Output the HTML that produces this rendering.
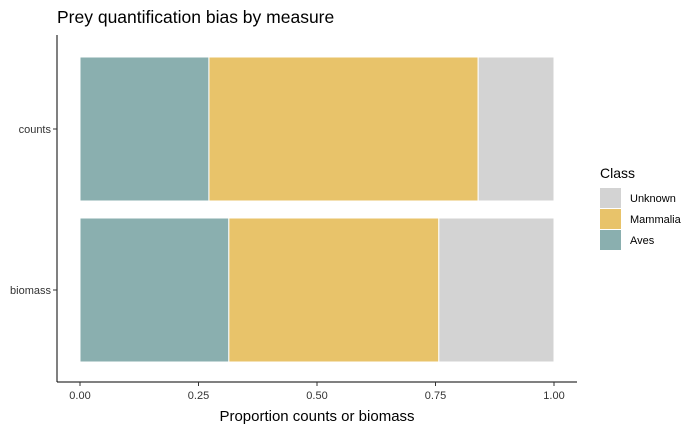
<!DOCTYPE html>
<html><head><meta charset="utf-8"><style>
body{margin:0;background:#fff;font-family:"Liberation Sans",sans-serif;}
</style></head><body>
<svg width="700" height="432" xmlns="http://www.w3.org/2000/svg" id="svg">
<text x="57" y="23" font-size="17.5" fill="#000">Prey quantification bias by measure</text>
<line x1="57" y1="35" x2="57" y2="382" stroke="#000" stroke-width="1"/>
<line x1="57" y1="382" x2="577" y2="382" stroke="#000" stroke-width="1"/>
<g id="bars"></g><g id="xt"></g><g id="yt"></g>
<text x="317" y="421" font-size="15" text-anchor="middle" fill="#000">Proportion counts or biomass</text>
<text x="600" y="178" font-size="14" fill="#000">Class</text>
<g id="legend"></g>
</svg>
<script>
const categories=["counts","biomass"];
const classes=["Aves","Mammalia","Unknown"];
const aves=[0.272,0.314];
const mammalia=[0.568,0.443];
const unknown=[0.160,0.243];
const xTicks=[0,0.25,0.5,0.75,1];
const xTickLabels=["0.00","0.25","0.50","0.75","1.00"];
const colors={Aves:"#8aafaf",Mammalia:"#e8c36a",Unknown:"#d3d3d3"};
const NS="http://www.w3.org/2000/svg";
const xs=v=>80+v*474;
const yc=i=>[129,290][i];
const bh=144;
function mk(t,a,p){const e=document.createElementNS(NS,t);for(const k in a)e.setAttribute(k,a[k]);p.appendChild(e);return e;}
const bars=document.getElementById('bars');
const series={Aves:aves,Mammalia:mammalia,Unknown:unknown};
categories.forEach((c,i)=>{
  let acc=0;
  classes.forEach(cl=>{
    const v=series[cl][i];
    const r=mk('rect',{x:xs(acc),y:yc(i)-bh/2,width:xs(acc+v)-xs(acc),height:bh,fill:colors[cl],stroke:"#fff","stroke-width":1},bars);
    
    
    acc+=v;
  });
  const yt=document.getElementById('yt');
  const tl=mk('line',{x1:53,x2:57,y1:yc(i),y2:yc(i),stroke:"#333"},yt);
  
  
  const tx=mk('text',{x:51,y:yc(i)+4,"font-size":11,"text-anchor":"end",fill:"#333"},yt);
  tx.textContent=c;
  
  
});
const xt=document.getElementById('xt');
xTicks.forEach((v,i)=>{
  const l=mk('line',{x1:xs(v),x2:xs(v),y1:382,y2:386,stroke:"#333"},xt);
  
  
  const t=mk('text',{x:xs(v),y:399,"font-size":11,"text-anchor":"middle",fill:"#333"},xt);
  t.textContent=xTickLabels[i];
  
  
});
const lg=document.getElementById('legend');
["Unknown","Mammalia","Aves"].forEach((cl,i)=>{
  const y=188+i*21;
  const r=mk('rect',{x:600,y:y,width:21,height:20,fill:colors[cl]},lg);
  
  
  const t=mk('text',{x:630,y:y+14,"font-size":11,fill:"#000"},lg);
  t.textContent=cl;
  
  
});
</script>
</body></html>
